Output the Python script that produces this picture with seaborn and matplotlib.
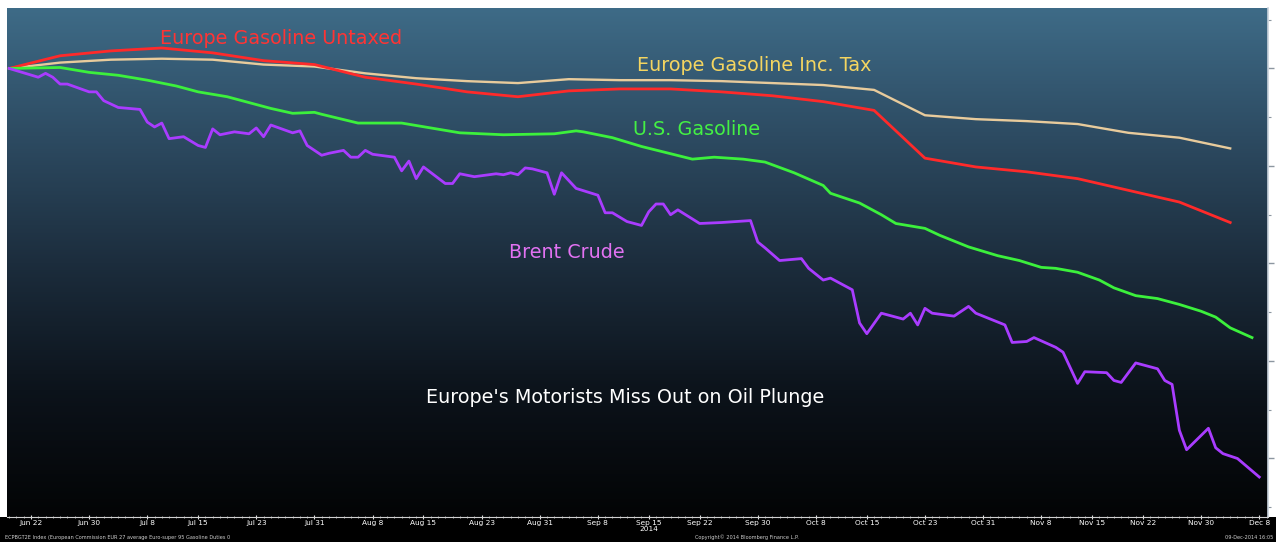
import numpy as np
import pandas as pd
import seaborn as sns
import matplotlib.pyplot as plt
import matplotlib.dates as mdates
from matplotlib.colors import LinearSegmentedColormap
from matplotlib.patches import Rectangle
from matplotlib.ticker import MultipleLocator, NullFormatter

# % change since Jun 19, 2014
brent_dates = [
    "06-19", "06-23", "06-24", "06-25", "06-26", "06-27", "06-30", "07-01", "07-02", "07-04",
    "07-07", "07-08", "07-09", "07-10", "07-11", "07-13", "07-15", "07-16", "07-17", "07-18",
    "07-20", "07-22", "07-23", "07-24", "07-25", "07-28", "07-29", "07-30", "08-01", "08-02",
    "08-04", "08-05", "08-06", "08-07", "08-08", "08-11", "08-12", "08-13", "08-14", "08-15",
    "08-18", "08-19", "08-20", "08-22", "08-25", "08-26", "08-27", "08-28", "08-29", "08-30",
    "09-01", "09-02", "09-03", "09-05", "09-08", "09-09", "09-10", "09-12", "09-14", "09-15",
    "09-16", "09-17", "09-18", "09-19", "09-22", "09-25", "09-29", "09-30", "10-01", "10-03",
    "10-06", "10-07", "10-09", "10-10", "10-13", "10-14", "10-15", "10-17", "10-20", "10-21",
    "10-22", "10-23", "10-24", "10-27", "10-29", "10-30", "11-03", "11-04", "11-06", "11-07",
    "11-10", "11-11", "11-12", "11-13", "11-14", "11-17", "11-18", "11-19", "11-21", "11-24",
    "11-25", "11-26", "11-27", "11-28", "12-01", "12-02", "12-03", "12-05", "12-08",
]
brent_pct = [
    0.0, -0.9, -0.5, -0.9, -1.6, -1.6, -2.4, -2.4, -3.3, -4.0,
    -4.2, -5.5, -6.0, -5.6, -7.2, -7.0, -7.9, -8.1, -6.2, -6.8,
    -6.5, -6.7, -6.1, -7.0, -5.8, -6.6, -6.4, -7.9, -8.9, -8.7,
    -8.4, -9.1, -9.1, -8.4, -8.8, -9.1, -10.5, -9.5, -11.3, -10.1,
    -11.8, -11.8, -10.8, -11.1, -10.8, -10.9, -10.7, -10.9, -10.2, -10.3,
    -10.7, -12.9, -10.7, -12.3, -13.0, -14.8, -14.8, -15.7, -16.1, -14.7,
    -13.9, -13.9, -15.0, -14.5, -15.9, -15.8, -15.6, -17.8, -18.4, -19.7,
    -19.5, -20.5, -21.7, -21.5, -22.7, -26.1, -27.2, -25.1, -25.7, -25.1,
    -26.3, -24.6, -25.1, -25.4, -24.4, -25.1, -26.3, -28.1, -28.0, -27.6,
    -28.6, -29.1, -30.7, -32.3, -31.1, -31.2, -32.0, -32.2, -30.2, -30.8,
    -32.0, -32.4, -37.1, -39.1, -36.9, -38.9, -39.5, -40.0, -41.9,
]

us_dates = [
    "06-19", "06-26", "06-30", "07-04", "07-08", "07-12", "07-15", "07-19", "07-22", "07-25",
    "07-28", "07-31", "08-01", "08-06", "08-12", "08-20", "08-26", "09-02", "09-05", "09-06",
    "09-10", "09-14", "09-21", "09-24", "09-28", "10-01", "10-05", "10-09", "10-10", "10-14",
    "10-17", "10-19", "10-23", "10-25", "10-29", "11-02", "11-05", "11-08", "11-10", "11-13",
    "11-16", "11-18", "11-21", "11-24", "11-27", "11-30", "12-02", "12-04", "12-07",
]
us_pct = [
    0.0, 0.1, -0.4, -0.7, -1.2, -1.8, -2.4, -2.9, -3.5, -4.1,
    -4.6, -4.5, -4.7, -5.6, -5.6, -6.6, -6.8, -6.7, -6.4, -6.5,
    -7.1, -8.0, -9.3, -9.1, -9.3, -9.6, -10.7, -12.0, -12.8, -13.8,
    -15.0, -15.9, -16.4, -17.1, -18.3, -19.2, -19.7, -20.4, -20.5, -20.9,
    -21.7, -22.5, -23.3, -23.6, -24.2, -24.9, -25.5, -26.6, -27.6,
]

eu_dates = [
    "06-19", "06-26", "07-03", "07-10", "07-17", "07-24", "07-31", "08-07", "08-14", "08-21",
    "08-28", "09-04", "09-11", "09-18", "09-25", "10-02", "10-09", "10-16", "10-23", "10-30",
    "11-06", "11-13", "11-20", "11-27", "12-04",
]
eu_untaxed_pct = [
    0.0, 1.3, 1.8, 2.1, 1.6, 0.8, 0.4, -0.9, -1.6, -2.4,
    -2.9, -2.3, -2.1, -2.1, -2.4, -2.8, -3.4, -4.3, -9.2, -10.1,
    -10.6, -11.3, -12.5, -13.7, -15.8,
]
eu_taxed_pct = [
    0.0, 0.6, 0.9, 1.0, 0.9, 0.4, 0.2, -0.5, -1.0, -1.3,
    -1.5, -1.1, -1.2, -1.2, -1.3, -1.5, -1.7, -2.2, -4.8, -5.2,
    -5.4, -5.7, -6.6, -7.1, -8.2,
]

tick_dates = [
    "06-22", "06-30", "07-08", "07-15", "07-23", "07-31", "08-08", "08-15", "08-23", "08-31",
    "09-08", "09-15", "09-22", "09-30", "10-08", "10-15", "10-23", "10-31", "11-08", "11-15",
    "11-22", "11-30", "12-08",
]
tick_labels = [
    "Jun 22", "Jun 30", "Jul 8", "Jul 15", "Jul 23", "Jul 31", "Aug 8", "Aug 15", "Aug 23", "Aug 31",
    "Sep 8", "Sep 15\n2014", "Sep 22", "Sep 30", "Oct 8", "Oct 15", "Oct 23", "Oct 31", "Nov 8", "Nov 15",
    "Nov 22", "Nov 30", "Dec 8",
]


def to_dates(days):
    return pd.to_datetime(["2014-" + d for d in days])


fig = plt.figure(figsize=(12.76, 5.42), dpi=100, facecolor="white")
ax = fig.add_axes([7 / 1276, 25 / 542, 1261 / 1276, 509 / 542])

# black strip for the date axis / footer
fig.add_artist(Rectangle((0, 0), 1, 25 / 542, transform=fig.transFigure,
                         facecolor="black", edgecolor="none", zorder=0))

# Bloomberg-style vertical gradient background
bg = LinearSegmentedColormap.from_list(
    "bbg", ["#3e6b87", "#2d4b62", "#1c2d3d", "#0c131b", "#030405"])
grad = np.linspace(0, 1, 256).reshape(-1, 1)
ax.imshow(grad, extent=[0, 1, 0, 1], transform=ax.transAxes, aspect="auto",
          cmap=bg, zorder=0)

sns.lineplot(x=to_dates(eu_dates), y=eu_taxed_pct, ax=ax, color="#e8cb9c", linewidth=1.7, zorder=3)
sns.lineplot(x=to_dates(eu_dates), y=eu_untaxed_pct, ax=ax, color="#ff2a2a", linewidth=2.0, zorder=4)
sns.lineplot(x=to_dates(us_dates), y=us_pct, ax=ax, color="#3cf03c", linewidth=2.0, zorder=4)
sns.lineplot(x=to_dates(brent_dates), y=brent_pct, ax=ax, color="#a93cff", linewidth=2.0, zorder=4)

start = pd.Timestamp("2014-06-22")
ax.set_xlim(mdates.date2num(start - pd.Timedelta(days=3.3)),
            mdates.date2num(start + pd.Timedelta(days=170.2)))
ax.set_ylim(-46.0, 6.2)

# labels on the chart
label_kw = dict(transform=ax.transAxes, fontsize=13.8, ha="center", va="center", zorder=5)
ax.text(0.2173, 0.940, "Europe Gasoline Untaxed", color="#ff3434", **label_kw)
ax.text(0.5924, 0.888, "Europe Gasoline Inc. Tax", color="#f4d560", **label_kw)
ax.text(0.5472, 0.762, "U.S. Gasoline", color="#44f044", **label_kw)
ax.text(0.4441, 0.519, "Brent Crude", color="#e272f2", **label_kw)
ax.text(0.4901, 0.234, "Europe's Motorists Miss Out on Oil Plunge", color="white", **label_kw)

# axes styling
for side in ["top", "left"]:
    ax.spines[side].set_visible(False)
ax.spines["bottom"].set_color("#d0d0d0")
ax.spines["right"].set_color("#c8d2dc")
ax.spines["right"].set_linewidth(1.2)
ax.set_xlabel("")
ax.set_ylabel("")

ax.set_xticks(mdates.date2num(to_dates(tick_dates)))
ax.set_xticklabels(tick_labels, fontsize=5.3, color="white", linespacing=0.9)
ax.xaxis.set_minor_locator(mdates.DayLocator())
ax.tick_params(axis="x", which="major", colors="#e0e0e0", length=3, width=0.8,
               direction="inout", pad=1, labelcolor="white")
ax.tick_params(axis="x", which="minor", colors="#c0c0c0", length=1.5, width=0.6,
               direction="inout")

ax.yaxis.tick_right()
ax.yaxis.set_major_locator(MultipleLocator(10))
ax.yaxis.set_minor_locator(MultipleLocator(5))
ax.yaxis.set_major_formatter(NullFormatter())
ax.tick_params(axis="y", which="major", colors="#8c96a0", length=4, width=1.0, direction="out")
ax.tick_params(axis="y", which="minor", colors="#8c96a0", length=2.5, width=0.8, direction="out")

# footer
fig.text(0.004, 0.004, "ECPBGT2E Index (European Commission EUR 27 average Euro-super 95 Gasoline Duties 0",
         fontsize=3.6, color="#cfcfcf", ha="left", va="bottom")
fig.text(0.585, 0.004, "Copyright\u00a9 2014 Bloomberg Finance L.P.",
         fontsize=3.6, color="#cfcfcf", ha="center", va="bottom")
fig.text(0.998, 0.004, "09-Dec-2014 16:05", fontsize=3.6, color="#cfcfcf",
         ha="right", va="bottom")

plt.savefig("out.png", dpi=100, facecolor=fig.get_facecolor())
